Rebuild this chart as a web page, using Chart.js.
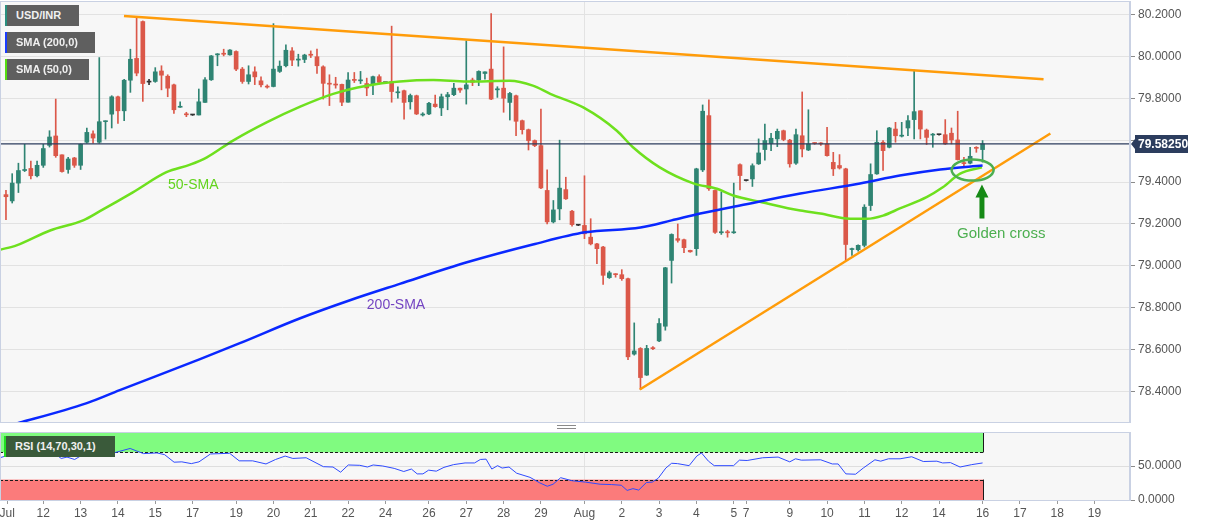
<!DOCTYPE html>
<html>
<head>
<meta charset="utf-8">
<script src="https://cdn.jsdelivr.net/npm/chart.js@4.4.1/dist/chart.umd.min.js"></script>
<style>
  body { margin: 0; background: #fff; width: 1207px; height: 526px; overflow: hidden; position: relative; font-family: Arial, "Liberation Sans", sans-serif; }
  #main { position: absolute; left: 0; top: 0; }
  #rsi { position: absolute; left: 0; top: 426px; }
  .tag { position: absolute; left: 5px; height: 21px; line-height: 21px; background: #5f5f5f; color: #f0f0f0; font-size: 11px; font-weight: bold; padding-left: 9px; border-left: 2px solid; box-sizing: border-box; }
  .grip { position: absolute; left: 557px; top: 425px; width: 19px; height: 2px; border-top: 1px solid #8a8a8a; border-bottom: 1px solid #8a8a8a; }
</style>
</head>
<body>
<canvas id="main" width="1207" height="426"></canvas>
<canvas id="rsi" width="1207" height="100"></canvas>
<div class="grip"></div>
<div class="tag" style="top:5px;width:74px;border-color:#2a8f7f">USD/INR</div>
<div class="tag" style="top:32px;width:90px;border-color:#1a3cff">SMA (200,0)</div>
<div class="tag" style="top:59px;width:84px;border-color:#55dd11">SMA (50,0)</div>
<div class="tag" style="top:436px;width:111px;left:4px;background:#3a5a3a;border-color:#22dd22">RSI (14,70,30,1)</div>
<script>
// 4-hour candles, USD/INR, Jul 11 - Aug 16
const opens = [79.34,79.31,79.395,79.455,79.465,79.43,79.48,79.575,79.62,79.53,79.46,79.515,79.48,79.59,79.63,79.59,79.688,79.724,79.807,79.74,
  79.886,79.99,80.166,79.877,79.88,79.93,79.905,79.864,79.757,79.724,79.72,79.72,79.78,79.888,80.007,80.013,80.007,80.023,79.939,79.88,
  79.926,79.883,79.857,79.856,79.928,79.955,80.026,79.982,79.985,80.01,79.998,79.95,79.87,79.866,79.866,79.781,79.89,79.883,79.87,79.864,
  79.903,79.874,79.88,79.826,79.836,79.783,79.812,79.72,79.725,79.772,79.754,79.807,79.817,79.848,79.844,79.887,79.887,79.918,79.939,79.84,
  79.848,79.78,79.812,79.693,79.65,79.598,79.574,79.36,79.21,79.272,79.364,79.261,79.194,79.193,79.137,79.105,79.09,78.944,78.962,78.958,
  78.939,78.579,78.606,78.479,78.608,78.642,78.712,79.026,79.13,79.125,79.074,79.082,79.458,79.717,79.36,79.158,79.163,79.158,79.483,79.407,
  79.415,79.487,79.555,79.584,79.606,79.645,79.6,79.49,79.621,79.553,79.587,79.586,79.582,79.494,79.479,79.463,79.078,79.077,79.098,79.288,
  79.439,79.59,79.566,79.653,79.619,79.658,79.698,79.74,79.648,79.624,79.626,79.626,79.633,79.601,79.492,79.49,79.565,79.555];
const highs = [79.36,79.44,79.49,79.58,79.50,79.50,79.58,79.645,79.796,79.53,79.518,79.518,79.582,79.657,79.645,79.994,79.692,79.812,79.81,79.89,
  80.034,80.19,80.169,79.89,79.946,79.955,79.912,79.868,79.783,79.733,79.722,79.844,79.899,80.004,80.013,80.034,80.032,80.026,79.947,79.955,
  79.95,79.902,79.864,80.156,79.978,80.055,80.042,80.01,80.01,80.026,80.034,79.955,79.912,79.9,79.868,79.923,79.923,79.928,79.896,79.906,
  79.912,79.876,80.144,79.854,79.839,79.82,79.815,79.731,79.78,79.815,79.82,79.828,79.871,79.848,80.074,79.896,79.931,79.926,80.204,79.855,
  80.045,79.828,79.815,79.696,79.653,79.601,79.748,79.458,79.312,79.6,79.423,79.265,79.196,79.43,79.225,79.108,79.093,78.975,78.963,78.982,
  78.942,78.728,78.61,78.621,78.615,78.748,78.993,79.153,79.2,79.128,79.075,79.466,79.768,79.792,79.363,79.352,79.17,79.395,79.487,79.409,
  79.487,79.606,79.677,79.633,79.653,79.648,79.604,79.653,79.83,79.745,79.588,79.588,79.661,79.542,79.531,79.466,79.085,79.1,79.292,79.487,
  79.645,79.598,79.661,79.685,79.685,79.717,79.934,79.741,79.653,79.632,79.628,79.698,79.658,79.738,79.518,79.566,79.569,79.598];
const lows = [79.22,79.30,79.35,79.45,79.415,79.425,79.47,79.567,79.518,79.447,79.442,79.47,79.46,79.585,79.585,79.585,79.605,79.658,79.68,79.693,
  79.828,79.907,79.785,79.865,79.876,79.84,79.807,79.728,79.756,79.712,79.718,79.72,79.78,79.885,79.955,80.002,80.006,79.931,79.871,79.868,
  79.865,79.854,79.848,79.854,79.923,79.95,79.955,79.953,79.97,79.994,79.918,79.796,79.765,79.848,79.765,79.781,79.875,79.87,79.812,79.817,
  79.868,79.872,79.781,79.8,79.7,79.748,79.722,79.715,79.722,79.757,79.717,79.745,79.812,79.828,79.772,79.86,79.86,79.891,79.793,79.804,
  79.733,79.696,79.621,79.629,79.553,79.569,79.368,79.2,79.205,79.22,79.317,79.19,79.192,79.13,79.1,79.01,78.912,78.94,78.946,78.931,
  78.553,78.574,78.41,78.477,78.6,78.638,78.693,78.918,79.113,79.063,79.065,79.05,79.45,79.36,79.155,79.15,79.137,79.155,79.363,79.405,
  79.379,79.484,79.505,79.55,79.569,79.597,79.471,79.484,79.52,79.55,79.58,79.575,79.524,79.431,79.462,79.025,79.05,79.07,79.09,79.264,
  79.437,79.455,79.563,79.59,79.615,79.621,79.606,79.606,79.579,79.566,79.624,79.579,79.582,79.505,79.478,79.487,79.542,79.495];
const closes = [79.33,79.395,79.455,79.46,79.43,79.48,79.56,79.615,79.526,79.45,79.51,79.48,79.58,79.637,79.61,79.688,79.69,79.807,79.74,79.886,
  79.986,79.92,79.87,79.877,79.926,79.91,79.848,79.745,79.76,79.721,79.72,79.783,79.888,80.002,80.010,80.01,80.03,79.939,79.88,79.912,
  79.902,79.864,79.853,79.939,79.953,80.029,79.982,79.987,80.006,80.005,79.955,79.871,79.867,79.863,79.781,79.887,79.885,79.886,79.849,79.903,
  79.876,79.874,79.832,79.83,79.78,79.813,79.725,79.722,79.776,79.76,79.807,79.817,79.848,79.839,79.864,79.876,79.928,79.926,79.796,79.845,
  79.8,79.823,79.69,79.65,79.598,79.574,79.372,79.21,79.267,79.371,79.32,79.197,79.194,79.153,79.105,79.082,78.955,78.967,78.958,78.939,
  78.566,78.594,78.467,78.606,78.605,78.725,78.991,79.15,79.122,79.087,79.067,79.463,79.738,79.368,79.16,79.163,79.158,79.162,79.431,79.407,
  79.478,79.539,79.598,79.609,79.642,79.603,79.487,79.626,79.558,79.582,79.584,79.582,79.526,79.463,79.467,79.102,79.082,79.098,79.28,79.436,
  79.59,79.55,79.658,79.621,79.623,79.693,79.736,79.653,79.613,79.628,79.626,79.582,79.601,79.507,79.488,79.523,79.561,79.5825];
const lastPrice = 79.5825;

// moving averages (x = candle index)
const sma200Idx = [0, 2.6, 13, 18.3, 31.2, 37.6, 47.3, 55.3, 63.3, 74.1, 84.7, 93.1, 102, 107, 111.6, 118, 127.7, 137.3, 143.7, 150.2, 157];
const sma200Val = [78.235, 78.255, 78.345, 78.407, 78.555, 78.631, 78.75, 78.836, 78.914, 79.017, 79.102, 79.16, 79.183, 79.217, 79.25, 79.288, 79.345, 79.393, 79.431, 79.46, 79.479];
const sma50Idx = [-0.96, 1.7, 7.1, 12.4, 15.1, 20.4, 25.8, 29.6, 32.3, 36.5, 41.9, 47.3, 52.6, 58, 63.3, 68.7, 74.1, 81, 84.7, 87.5,
  92.8, 98.2, 100.8, 105.1, 110.5, 114.3, 116.9, 121.5, 127.7, 130.9, 135.7, 138.4, 141, 143.7, 148, 150.6, 153.4, 156.9];
const sma50Val = [79.077, 79.098, 79.169, 79.217, 79.261, 79.351, 79.447, 79.483, 79.518, 79.598, 79.685, 79.76, 79.821, 79.86, 79.88, 79.887, 79.88, 79.883, 79.86, 79.821,
  79.756, 79.645, 79.566, 79.47, 79.394, 79.368, 79.336, 79.304, 79.264, 79.25, 79.225, 79.225, 79.24, 79.274, 79.328, 79.375, 79.44, 79.47];

// trend lines [startIdx, startPrice, endIdx, endPrice]
const resistance = [18.97, 80.193, 166.8, 79.891];
const support = [101.9, 78.41, 167.9, 79.632];

// RSI (14)
const rsiIdx = [-0.96, 0.27, 2.12, 3.96, 5.81, 7.04, 8.88, 9.81, 11.04, 12.27, 14.42, 16.27, 17.5, 19.96, 22.11, 24.27, 25.5, 27.03, 28.27, 29.8,
  31.03, 32.88, 35.96, 37.49, 39.65, 41.8, 43.34, 44.88, 46.11, 48.26, 51.03, 52.57, 53.8, 55.03, 56.88, 58.11, 59.03, 60.57, 62.41, 63.95,
  65.18, 66.11, 67.03, 67.95, 69.18, 70.41, 71.95, 73.8, 75.33, 76.26, 77.18, 78.1, 79.03, 79.76, 80.87, 82.1, 84.25, 85.79, 87.02, 87.95,
  89.18, 91.02, 93.18, 95.52, 97.37, 98.92, 99.86, 100.79, 101.72, 102.97, 103.9, 104.84, 106.08, 107.01, 107.95, 109.82, 111.06, 111.81, 112.93, 113.86,
  116.97, 117.91, 119.15, 121.64, 124.13, 126, 126.93, 127.86, 130.98, 132.84, 133.78, 135.02, 136.58, 137.82, 139.69, 140.62, 141.87, 143.74, 145.6, 147.47,
  149.65, 150.58, 151.83, 153.38, 155.25, 157];
const rsiVal = [62.1, 65.7, 69.7, 69.7, 71.2, 73.7, 61.1, 63.1, 59.6, 66.2, 66.2, 69.7, 69.7, 75.8, 68.2, 69.2, 66.7, 55.6, 56.1, 53.5,
  56.1, 67.7, 68.7, 57.6, 57.6, 53, 59.6, 64.6, 61.1, 62.1, 49, 48.5, 40.9, 51.5, 51, 48.5, 51.5, 50, 46.5, 41.9,
  45.5, 38.4, 38.4, 43.9, 42.4, 48, 52, 54.5, 54.5, 59.6, 60.1, 45.5, 50.5, 47, 48.5, 39.4, 33.3, 25.3, 20.2, 23.2,
  32.8, 28.3, 26.3, 23.2, 22.7, 21.7, 14.1, 16.7, 14.6, 25.8, 26.3, 31.8, 47, 54, 53.5, 50.5, 64.6, 69.2, 57.1, 50.5,
  50.5, 58.6, 58.1, 62.1, 63.1, 56.1, 60.6, 58.6, 59.1, 53, 53, 38.4, 37.9, 47, 59.1, 57.1, 60.6, 60.6, 63.6, 56.6,
  57.1, 54.5, 55, 48.5, 52, 54.5];

// axis
const priceTicks = [78.4, 78.6, 78.8, 79.0, 79.2, 79.4, 79.6, 79.8, 80.0, 80.2];
const dayLabels = ['Jul','12','13','14','15','17','19','20','21','22','24','26','27','28','29','Aug','2','3','4','5','7','9','10','11','12','14','16','17','18','19'];
const dayTickIdx = [0.2, 6, 12, 18, 24, 30, 37, 43, 49, 55, 61, 68, 74, 80, 86, 93, 99, 105, 111, 117, 119, 126, 132, 138, 144, 150, 157, 163, 169, 175];

const X_MIN = -0.96, X_MAX = 180.7;
const FONT = 'Arial, "Liberation Sans", sans-serif';
const UP = '#2f8473', DOWN = '#db5849', FLAT = '#333333';

const candleColor = opens.map((o, i) => closes[i] > o ? UP : closes[i] < o ? DOWN : FLAT);
const pts = (xs, ys) => xs.map((x, i) => ({ x: x, y: ys[i] }));

// keep the y-axis labels from shrinking the plot area
const noLabelPad = s => { s.width = 77; s.paddingTop = 0; s.paddingBottom = 0; };

const plotBg = {
  id: 'plotBg',
  beforeDraw(c) {
    const { ctx, chartArea: a } = c;
    ctx.save();
    ctx.fillStyle = '#f7f7f7';
    ctx.fillRect(a.left, a.top, a.right - a.left, a.bottom - a.top);
    ctx.restore();
  },
  afterDraw(c) {
    const { ctx, chartArea: a } = c;
    ctx.save();
    ctx.strokeStyle = '#c9d1e3';
    ctx.lineWidth = 1;
    ctx.strokeRect(a.left + 0.5, a.top + 0.5, a.right - a.left - 1, a.bottom - a.top);
    ctx.restore();
  }
};

const notes = {
  id: 'notes',
  afterDatasetsDraw(c) {
    const { ctx, scales: { x, y } } = c;
    ctx.save();
    ctx.textAlign = 'center';
    ctx.textBaseline = 'middle';
    ctx.font = '14px ' + FONT;
    ctx.fillStyle = '#62d41c';
    ctx.fillText('50-SMA', x.getPixelForValue(30.1), y.getPixelForValue(79.383));
    ctx.fillStyle = '#7344c2';
    ctx.fillText('200-SMA', x.getPixelForValue(62.7), y.getPixelForValue(78.812));
    ctx.font = '15px ' + FONT;
    ctx.fillStyle = '#4caf50';
    ctx.fillText('Golden cross', x.getPixelForValue(160), y.getPixelForValue(79.155));

    // ellipse around the cross
    ctx.strokeStyle = '#4caf50';
    ctx.lineWidth = 2.5;
    ctx.beginPath();
    ctx.ellipse(x.getPixelForValue(155.4), y.getPixelForValue(79.457), 21, 10.5, 0, 0, Math.PI * 2);
    ctx.stroke();

    // arrow
    const ax = x.getPixelForValue(156.9);
    const tip = y.getPixelForValue(79.388);
    const base = y.getPixelForValue(79.226);
    ctx.fillStyle = '#168a16';
    ctx.beginPath();
    ctx.moveTo(ax, tip);
    ctx.lineTo(ax + 6.5, tip + 13);
    ctx.lineTo(ax + 2.5, tip + 13);
    ctx.lineTo(ax + 2.5, base);
    ctx.lineTo(ax - 2.5, base);
    ctx.lineTo(ax - 2.5, tip + 13);
    ctx.lineTo(ax - 6.5, tip + 13);
    ctx.closePath();
    ctx.fill();
    ctx.restore();
  },
  afterDraw(c) {
    const { ctx, chartArea: a, scales: { y } } = c;
    const py = Math.round(y.getPixelForValue(lastPrice));
    ctx.save();
    ctx.fillStyle = '#2c3d5e';
    ctx.beginPath();
    ctx.moveTo(a.right + 1, py);
    ctx.lineTo(a.right + 5, py - 5);
    ctx.lineTo(a.right + 5, py - 9);
    ctx.lineTo(1188, py - 9);
    ctx.lineTo(1188, py + 9);
    ctx.lineTo(a.right + 5, py + 9);
    ctx.lineTo(a.right + 5, py + 5);
    ctx.closePath();
    ctx.fill();
    ctx.fillStyle = '#ffffff';
    ctx.font = 'bold 12px ' + FONT;
    ctx.textBaseline = 'middle';
    ctx.fillText(lastPrice.toFixed(5), a.right + 8, py + 1);
    ctx.restore();
  }
};

const xAxis = (showLabels) => ({
  type: 'linear',
  min: X_MIN,
  max: X_MAX,
  offset: false,
  afterBuildTicks: s => { s.ticks = dayTickIdx.map(v => ({ value: v })); },
  afterFit: s => { s.height = showLabels ? 26 : 4; s.paddingLeft = 0; s.paddingRight = 0; },
  ticks: {
    display: showLabels,
    autoSkip: false,
    maxRotation: 0,
    padding: 2,
    color: '#555',
    font: { size: 12, family: FONT },
    callback: (v, i) => dayLabels[i]
  },
  grid: {
    offset: false,
    drawTicks: showLabels,
    tickLength: 4,
    tickColor: '#9a9a9a',
    color: ctx => (ctx.tick && dayLabels[ctx.index] === 'Aug') ? '#e3e3e3' : 'rgba(0,0,0,0)'
  },
  border: { display: false }
});

new Chart(document.getElementById('main'), {
  type: 'bar',
  data: {
    datasets: [
      { type: 'line', label: 'Price', data: [{ x: X_MIN - 1, y: lastPrice }, { x: X_MAX + 1, y: lastPrice }],
        borderColor: '#2c3d5e', borderWidth: 1.2, pointRadius: 0, order: 0 },
      { type: 'line', label: 'Resistance', data: [{ x: resistance[0], y: resistance[1] }, { x: resistance[2], y: resistance[3] }],
        borderColor: '#ff9c0a', borderWidth: 2.5, pointRadius: 0, order: 1 },
      { type: 'line', label: 'Support', data: [{ x: support[0], y: support[1] }, { x: support[2], y: support[3] }],
        borderColor: '#ff9c0a', borderWidth: 2.5, pointRadius: 0, order: 1 },
      { type: 'line', label: 'SMA 200', data: pts(sma200Idx, sma200Val),
        borderColor: '#0a28ff', borderWidth: 2.5, pointRadius: 0, cubicInterpolationMode: 'monotone', order: 2 },
      { type: 'line', label: 'SMA 50', data: pts(sma50Idx, sma50Val),
        borderColor: '#6ee01e', borderWidth: 2.5, pointRadius: 0, cubicInterpolationMode: 'monotone', order: 2 },
      { label: 'Body', data: opens.map((o, i) => ({ x: i, y: [o, closes[i]] })),
        backgroundColor: candleColor, barThickness: 4, minBarLength: 1, grouped: false, order: 5 },
      { label: 'Wick', data: lows.map((l, i) => ({ x: i, y: [l, highs[i]] })),
        backgroundColor: candleColor, barThickness: 1, grouped: false, order: 6 }
    ]
  },
  options: {
    responsive: false,
    devicePixelRatio: 1,
    animation: false,
    layout: { padding: { top: 1, left: 0, right: 0, bottom: 0 } },
    plugins: { legend: { display: false }, tooltip: { enabled: false } },
    scales: {
      x: xAxis(false),
      y: {
        position: 'right',
        min: 78.255,
        max: 80.264,
        afterBuildTicks: s => { s.ticks = priceTicks.map(v => ({ value: v })); },
        afterFit: noLabelPad,
        // the last-price tag covers the label it sits on
        ticks: { color: '#555', font: { size: 12, family: FONT }, padding: 3,
          callback: v => Math.abs(v - lastPrice) < 0.04 ? '' : Number(v).toFixed(4) },
        grid: { color: '#e2e2e2', tickColor: '#8a8a8a', tickLength: 5 },
        border: { color: '#c9d1e3' }
      }
    }
  },
  plugins: [plotBg, notes]
});

const bands = {
  id: 'bands',
  beforeDatasetsDraw(c) {
    const { ctx, chartArea: a, scales: { x, y } } = c;
    const xe = Math.round(x.getPixelForValue(opens.length - 1)) + 0.5;
    const y100 = y.getPixelForValue(100), y70 = y.getPixelForValue(70), y30 = y.getPixelForValue(30), y0 = y.getPixelForValue(0);
    ctx.save();
    ctx.fillStyle = '#80fb80';
    ctx.fillRect(a.left, y100, xe - a.left, y70 - y100);
    ctx.fillStyle = '#fb7b7b';
    ctx.fillRect(a.left, y30, xe - a.left, y0 - y30);
    ctx.strokeStyle = '#1a1a1a';
    ctx.lineWidth = 1;
    ctx.beginPath();
    ctx.moveTo(xe, y100); ctx.lineTo(xe, y70);
    ctx.moveTo(xe, y30); ctx.lineTo(xe, y0);
    ctx.stroke();
    ctx.setLineDash([3, 2]);
    ctx.beginPath();
    ctx.moveTo(a.left, Math.round(y70) + 0.5); ctx.lineTo(xe, Math.round(y70) + 0.5);
    ctx.moveTo(a.left, Math.round(y30) + 0.5); ctx.lineTo(xe, Math.round(y30) + 0.5);
    ctx.stroke();
    ctx.restore();
  }
};

new Chart(document.getElementById('rsi'), {
  type: 'line',
  data: {
    datasets: [
      { label: 'RSI', data: pts(rsiIdx, rsiVal), borderColor: '#2f4bff', borderWidth: 1, pointRadius: 0 }
    ]
  },
  options: {
    responsive: false,
    devicePixelRatio: 1,
    animation: false,
    layout: { padding: { top: 6, left: 0, right: 0, bottom: 0 } },
    plugins: { legend: { display: false }, tooltip: { enabled: false } },
    scales: {
      x: xAxis(true),
      y: {
        position: 'right',
        min: 0,
        max: 100,
        afterBuildTicks: s => { s.ticks = [0, 50].map(v => ({ value: v })); },
        afterFit: noLabelPad,
        ticks: { color: '#555', font: { size: 12, family: FONT }, padding: 3, callback: v => Number(v).toFixed(4) },
        grid: { color: ctx => ctx.tick && ctx.tick.value === 50 ? '#dedede' : 'rgba(0,0,0,0)', tickColor: '#8a8a8a', tickLength: 5 },
        border: { color: '#c9d1e3' }
      }
    }
  },
  plugins: [plotBg, bands]
});
</script>
</body>
</html>
